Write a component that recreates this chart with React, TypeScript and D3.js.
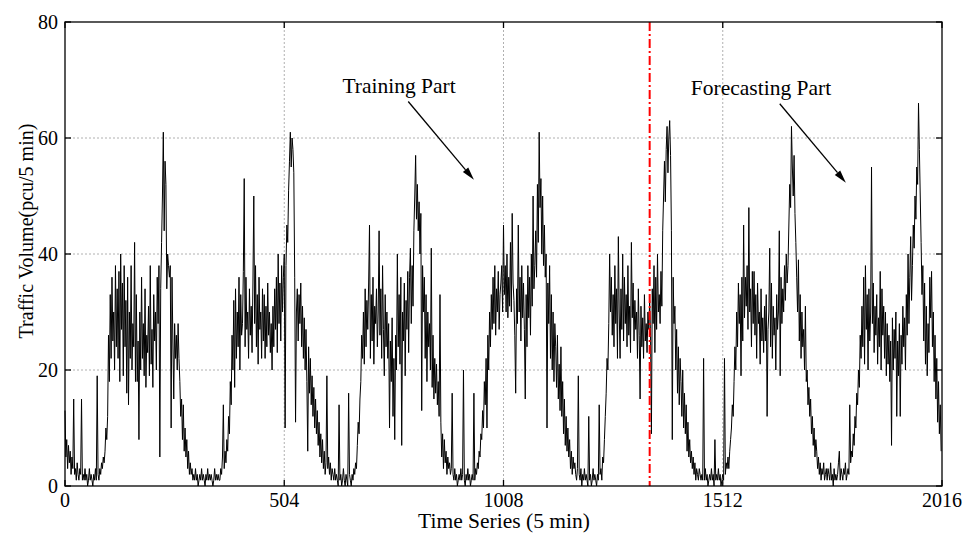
import React from "react";
import * as d3 from "d3";

// x axis: 5-minute intervals, one week (7 days x 288)
const xTicks = [0, 504, 1008, 1512, 2016];
const yTicks = [0, 20, 40, 60, 80];
const splitIndex = 1344;
const sampleStep = 2;
const pointsPerDay = 288;

// traffic volume (pcu / 5 min), every 2nd sample, one array per day
const day1 = [
  13, 5, 8, 3, 7, 4, 6, 2, 5, 3, 15, 2,
  3, 1, 4, 2, 1, 3, 2, 15, 1, 2, 1, 3,
  1, 2, 0, 1, 3, 1, 2, 1, 0, 2, 1, 3,
  1, 19, 2, 1, 3, 2, 4, 3, 5, 4, 6, 10,
  8, 12, 26, 18, 33, 22, 36, 25, 30, 20, 38, 24,
  34, 22, 37, 18, 40, 27, 35, 19, 38, 24, 32, 16,
  36, 14, 30, 22, 38, 20, 28, 24, 42, 18, 33, 18,
  25, 8, 30, 20, 36, 22, 28, 19, 34, 17, 26, 23,
  31, 19, 38, 21, 27, 17, 33, 25, 30, 20, 36, 28,
  38, 5, 34, 42, 50, 61, 44, 56, 52, 34, 40, 38,
  36, 38, 10, 36, 25, 15, 28, 22, 26, 20, 28, 22,
  18, 12, 15, 8, 14, 6, 10, 5, 8, 3, 6, 2,
];
const day2 = [
  4, 2, 3, 1, 2, 1, 3, 1, 2, 0, 1, 2,
  1, 3, 1, 2, 1, 0, 2, 1, 3, 1, 2, 1,
  2, 1, 0, 1, 3, 1, 2, 1, 2, 1, 1, 3,
  2, 5, 14, 3, 6, 4, 8, 6, 12, 9, 18, 14,
  26, 20, 32, 17, 34, 22, 30, 24, 36, 20, 33, 26,
  28, 37, 53, 24, 36, 27, 30, 22, 34, 26, 31, 23,
  35, 50, 28, 38, 24, 33, 21, 36, 27, 30, 22, 34,
  25, 33, 22, 31, 24, 35, 26, 30, 23, 28, 20, 31,
  24, 34, 27, 36, 23, 40, 28, 35, 25, 38, 30, 36,
  40, 10, 38, 45, 42, 51, 56, 61, 55, 60, 58, 54,
  36, 11, 30, 34, 25, 33, 28, 35, 24, 31, 22, 29,
  20, 27, 18, 6, 24, 16, 22, 14, 19, 12, 17, 10,
];
const day3 = [
  15, 9, 13, 7, 11, 5, 9, 4, 8, 3, 6, 2,
  4, 19, 3, 5, 2, 4, 1, 3, 2, 1, 3, 1,
  2, 1, 0, 14, 1, 2, 0, 1, 3, 1, 0, 2,
  1, 0, 16, 2, 1, 0, 2, 1, 3, 2, 4, 3,
  7, 11, 9, 15, 18, 26, 22, 30, 21, 34, 24, 32,
  27, 35, 45, 22, 33, 25, 36, 21, 31, 28, 34, 24,
  30, 44, 26, 34, 22, 38, 27, 19, 33, 24, 30, 22,
  28, 10, 25, 18, 29, 12, 22, 8, 26, 20, 40, 24,
  33, 21, 36, 7, 30, 25, 35, 19, 32, 27, 37, 23,
  36, 41, 28, 38, 31, 44, 50, 57, 46, 52, 44, 49,
  40, 47, 13, 38, 30, 36, 22, 33, 18, 30, 24, 28,
  20, 41, 17, 26, 15, 22, 16, 21, 14, 18, 12, 33,
];
const day4 = [
  11, 5, 9, 3, 8, 4, 6, 2, 5, 3, 4, 2,
  3, 16, 2, 1, 3, 1, 2, 0, 1, 2, 1, 3,
  1, 2, 20, 1, 0, 2, 1, 3, 1, 2, 0, 1,
  2, 1, 16, 1, 3, 2, 4, 3, 6, 5, 9, 8,
  13, 10, 18, 14, 22, 10, 26, 20, 30, 24, 33, 27,
  36, 28, 38, 26, 34, 30, 37, 27, 33, 35, 38, 30,
  45, 33, 38, 30, 40, 29, 36, 31, 42, 30, 47, 35,
  32, 26, 16, 34, 28, 45, 30, 36, 25, 38, 29, 35,
  27, 15, 33, 24, 38, 29, 36, 26, 40, 31, 50, 34,
  38, 44, 36, 52, 42, 61, 48, 53, 40, 50, 38, 45,
  36, 40, 10, 35, 28, 38, 22, 33, 20, 30, 18, 28,
  24, 17, 26, 15, 21, 13, 24, 12, 18, 9, 15, 7,
];
const day5 = [
  12, 6, 10, 5, 8, 3, 6, 2, 5, 3, 4, 2,
  1, 3, 19, 2, 1, 3, 0, 2, 1, 3, 1, 2,
  1, 0, 12, 1, 2, 0, 1, 3, 1, 2, 1, 0,
  2, 1, 14, 2, 3, 1, 5, 4, 8, 12, 16, 22,
  20, 28, 40, 30, 36, 26, 33, 24, 38, 28, 34, 22,
  43, 30, 22, 34, 27, 40, 25, 36, 28, 33, 24, 38,
  26, 31, 23, 42, 29, 35, 25, 32, 27, 30, 22, 34,
  26, 15, 31, 24, 29, 22, 33, 25, 28, 23, 30, 27,
  32, 26, 9, 34, 28, 38, 23, 36, 27, 40, 30, 33,
  28, 37, 31, 44, 50, 56, 49, 58, 62, 54, 60, 63,
  57, 44, 8, 36, 28, 31, 20, 27, 16, 24, 14, 22,
  18, 12, 20, 10, 16, 9, 14, 6, 11, 5, 8, 4,
];
const day6 = [
  6, 3, 5, 2, 4, 1, 3, 2, 1, 3, 2, 1,
  2, 1, 22, 1, 3, 1, 2, 0, 1, 2, 1, 3,
  1, 2, 0, 8, 1, 2, 1, 3, 1, 2, 0, 1,
  2, 1, 22, 2, 4, 3, 5, 3, 6, 8, 10, 14,
  12, 18, 24, 20, 30, 24, 35, 28, 33, 19, 36, 25,
  45, 29, 36, 31, 38, 27, 48, 30, 34, 24, 37, 28,
  37, 26, 33, 22, 35, 28, 30, 21, 34, 25, 29, 23,
  31, 25, 33, 12, 27, 30, 41, 24, 35, 22, 31, 26,
  29, 20, 33, 27, 30, 44, 19, 36, 28, 34, 30, 38,
  32, 40, 35, 38, 45, 52, 48, 62, 55, 50, 57, 47,
  42, 36, 30, 39, 25, 33, 22, 30, 24, 27, 20, 31,
  18, 20, 14, 17, 12, 15, 9, 12, 7, 10, 5, 8,
];
const day7 = [
  6, 3, 5, 2, 4, 1, 3, 2, 4, 1, 2, 3,
  1, 3, 2, 1, 4, 1, 2, 0, 3, 1, 2, 1,
  2, 4, 6, 1, 3, 2, 1, 3, 2, 4, 1, 2,
  3, 2, 14, 4, 6, 5, 9, 7, 12, 10, 16, 14,
  20, 17, 26, 22, 31, 24, 36, 21, 38, 27, 33, 20,
  34, 25, 30, 55, 28, 35, 23, 31, 26, 33, 21, 29,
  24, 37, 20, 34, 26, 31, 22, 30, 19, 28, 21, 26,
  18, 25, 7, 29, 20, 27, 22, 30, 12, 25, 19, 28,
  12, 26, 21, 31, 24, 29, 20, 33, 26, 40, 28, 36,
  43, 32, 38, 45, 41, 50, 46, 55, 52, 66, 58, 50,
  42, 33, 38, 25, 35, 21, 31, 19, 28, 23, 36, 29,
  37, 24, 30, 18, 26, 15, 22, 11, 18, 9, 14, 6,
];
const days = [day1, day2, day3, day4, day5, day6, day7];

// annotation anchors in data units
const trainingLabel = { text: "Training Part", x: 768, y: 67.7 };
const trainingArrow = { x1: 789, y1: 66.3, x2: 940, y2: 52.8 };
const forecastLabel = { text: "Forecasting Part", x: 1600, y: 67.4 };
const forecastArrow = { x1: 1643, y1: 65.9, x2: 1795, y2: 52.3 };

const FONT = "'Liberation Serif', 'Times New Roman', serif";

export default function App() {
  const W = 973;
  const H = 533;
  const L = 65, R = 942, T = 22, B = 486;
  const x = d3.scaleLinear().domain([0, 2016]).range([L, R]);
  const y = d3.scaleLinear().domain([0, 80]).range([B, T]);

  const pts: [number, number][] = [];
  days.forEach((d, di) => {
    d.forEach((v, j) => pts.push([di * pointsPerDay + j * sampleStep, v]));
  });
  const line = d3.line<[number, number]>().x((d) => x(d[0])).y((d) => y(d[1]));
  const path = line(pts) || "";

  const tick = 6;

  const arrowHead = (a: { x1: number; y1: number; x2: number; y2: number }) => {
    const X1 = x(a.x1), Y1 = y(a.y1), X2 = x(a.x2), Y2 = y(a.y2);
    const ang = Math.atan2(Y2 - Y1, X2 - X1);
    const len = 13, half = 3.5;
    const bx = X2 - len * Math.cos(ang), by = Y2 - len * Math.sin(ang);
    const p1 = [bx + half * Math.sin(ang), by - half * Math.cos(ang)];
    const p2 = [bx - half * Math.sin(ang), by + half * Math.cos(ang)];
    return (
      <g>
        <line x1={X1} y1={Y1} x2={bx} y2={by} stroke="#000" strokeWidth={1.3} />
        <polygon points={`${X2},${Y2} ${p1[0]},${p1[1]} ${p2[0]},${p2[1]}`} fill="#000" />
      </g>
    );
  };

  return (
    <svg
      width={W}
      height={H}
      style={{ position: "absolute", left: 0, top: 0, background: "#fff" }}
      fontFamily={FONT}
    >
      <rect x={0} y={0} width={W} height={H} fill="#fff" />
      {/* grid */}
      {xTicks.slice(1, -1).map((t) => (
        <line key={"gx" + t} x1={x(t)} x2={x(t)} y1={T} y2={B} stroke="#b0b0b0" strokeWidth={1} strokeDasharray="2,2" />
      ))}
      {yTicks.slice(1, -1).map((t) => (
        <line key={"gy" + t} x1={L} x2={R} y1={y(t)} y2={y(t)} stroke="#b0b0b0" strokeWidth={1} strokeDasharray="2,2" />
      ))}
      {/* series */}
      <path d={path} fill="none" stroke="#000" strokeWidth={1} strokeLinejoin="miter" />
      {/* split line */}
      <line x1={x(splitIndex)} x2={x(splitIndex)} y1={T} y2={B} stroke="#ff0000" strokeWidth={2} strokeDasharray="9,3,2,3" />
      {/* frame */}
      <rect x={L} y={T} width={R - L} height={B - T} fill="none" stroke="#000" strokeWidth={1.3} />
      {/* ticks */}
      {xTicks.map((t) => (
        <g key={"tx" + t}>
          <line x1={x(t)} x2={x(t)} y1={B} y2={B - tick} stroke="#000" strokeWidth={1.3} />
          <line x1={x(t)} x2={x(t)} y1={T} y2={T + tick} stroke="#000" strokeWidth={1.3} />
          <text x={x(t)} y={B + 21} fontSize={20} textAnchor="middle" fill="#000">{t}</text>
        </g>
      ))}
      {yTicks.map((t) => (
        <g key={"ty" + t}>
          <line x1={L} x2={L + tick} y1={y(t)} y2={y(t)} stroke="#000" strokeWidth={1.3} />
          <line x1={R} x2={R - tick} y1={y(t)} y2={y(t)} stroke="#000" strokeWidth={1.3} />
          <text x={L - 7} y={y(t) + 7} fontSize={20} textAnchor="end" fill="#000">{t}</text>
        </g>
      ))}
      {/* axis titles */}
      <text x={504} y={528} fontSize={21.5} textAnchor="middle" fill="#000">Time Series (5 min)</text>
      <text transform={`translate(33,231) rotate(-90)`} fontSize={20} textAnchor="middle" fill="#000">
        Traffic Volume(pcu/5 min)
      </text>
      {/* annotations */}
      <text x={x(trainingLabel.x)} y={y(trainingLabel.y)} fontSize={21.5} textAnchor="middle" fill="#000">{trainingLabel.text}</text>
      {arrowHead(trainingArrow)}
      <text x={x(forecastLabel.x)} y={y(forecastLabel.y)} fontSize={21.5} textAnchor="middle" fill="#000">{forecastLabel.text}</text>
      {arrowHead(forecastArrow)}
    </svg>
  );
}
